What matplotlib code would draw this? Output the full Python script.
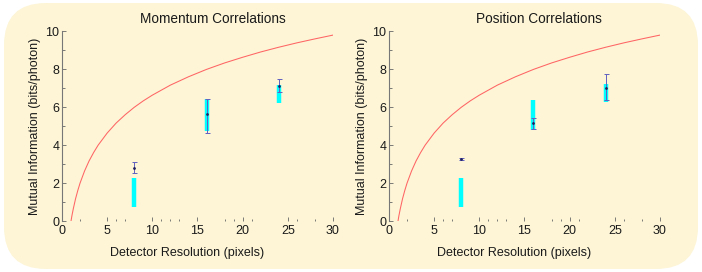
import matplotlib
matplotlib.use("Agg")
import matplotlib.pyplot as plt
from matplotlib.patches import FancyBboxPatch

plt.rcParams['font.family'] = ['Liberation Sans', 'DejaVu Sans']

# Theoretical curve
curve_x = [1.0, 1.1, 1.25, 1.5, 1.75, 2.0, 2.5, 3.0, 3.5, 4.0, 5.0, 6.0, 7.0, 8.0, 9.0, 10.0,
           12.0, 14.0, 16.0, 18.0, 20.0, 22.0, 24.0, 26.0, 28.0, 30.0]
curve_y = [0.0, 0.28, 0.64, 1.17, 1.61, 2.0, 2.64, 3.17, 3.61, 4.0, 4.64, 5.17, 5.61, 6.0, 6.34, 6.64,
           7.17, 7.61, 8.0, 8.34, 8.64, 8.92, 9.17, 9.40, 9.61, 9.81]

res = [8, 16, 24]

# Momentum correlations
mom_band_lo = [0.75, 4.75, 6.25]
mom_band_hi = [2.25, 6.42, 7.18]
mom_val = [2.80, 5.65, 7.10]
mom_err_lo = [2.52, 4.63, 6.82]
mom_err_hi = [3.13, 6.45, 7.48]

# Position correlations
pos_band_lo = [0.75, 4.80, 6.26]
pos_band_hi = [2.25, 6.39, 7.21]
pos_val = [3.26, 5.15, 7.03]
pos_err_lo = [3.20, 4.84, 6.37]
pos_err_hi = [3.32, 5.45, 7.74]

titles = ["Momentum Correlations", "Position Correlations"]
xlabel = "Detector Resolution (pixels)"
ylabel = "Mutual Information (bits/photon)"

BG = '#FDF5D6'
W, H = 702, 272
fig = plt.figure(figsize=(W / 100, H / 100), dpi=100)
fig.patch.set_facecolor('white')

bgax = fig.add_axes([0, 0, 1, 1], zorder=-10)
bgax.set_xlim(0, W)
bgax.set_ylim(0, H)
bgax.axis('off')
bgax.add_patch(FancyBboxPatch((4, 3), W - 8, H - 6, boxstyle="round,pad=0,rounding_size=42",
                              facecolor=BG, edgecolor='none'))

panels = [
    (0.0883, titles[0], mom_band_lo, mom_band_hi, mom_val, mom_err_lo, mom_err_hi),
    (0.5541, titles[1], pos_band_lo, pos_band_hi, pos_val, pos_err_lo, pos_err_hi),
]

TXT = '#1a1a1a'
for x0, title, blo, bhi, val, elo, ehi in panels:
    ax = fig.add_axes([x0, 0.1875, 0.386, 0.6967])
    ax.set_facecolor('none')
    ax.plot(curve_x, curve_y, color='#FF6464', lw=0.75)
    ax.vlines(res, blo, bhi, color='#00FFFF', lw=3.2, zorder=3)
    yerr = [[v - l for v, l in zip(val, elo)], [h - v for v, h in zip(val, ehi)]]
    ax.errorbar(res, val, yerr=yerr, fmt='o', ms=1.0, color='#202060', ecolor='#6060C0',
                elinewidth=0.7, capsize=1.8, capthick=0.7, zorder=4)
    ax.set_xlim(0, 30)
    ax.set_ylim(0, 10)
    for s in ['top', 'right', 'bottom']:
        ax.spines[s].set_visible(False)
    ax.spines['left'].set_color('#777777')
    ax.spines['left'].set_linewidth(0.8)
    ax.set_xticks([0, 5, 10, 15, 20, 25, 30])
    ax.set_xticks([2, 6, 7, 11, 12, 13, 18, 19, 21, 26, 28], minor=True)
    ax.set_yticks([0, 2, 4, 6, 8, 10])
    ax.set_yticks([1, 3, 5, 7, 9], minor=True)
    ax.tick_params(axis='x', direction='in', length=3, width=0.6, color='#666666',
                   labelsize=9, pad=3, labelcolor=TXT)
    ax.tick_params(axis='x', which='minor', direction='in', length=1.5, width=0.6, color='#666666')
    ax.tick_params(axis='y', direction='in', length=3, width=0.6, color='#666666',
                   labelsize=9, pad=2, labelcolor=TXT)
    ax.tick_params(axis='y', which='minor', direction='in', length=2, width=0.6, color='#666666')
    ax.text(0.555, 1.068, title, transform=ax.transAxes, ha='center', va='center',
            fontsize=9.8, color=TXT)
    ax.set_xlabel(xlabel, fontsize=9, color=TXT, labelpad=3)
    ax.xaxis.set_label_coords(0.46, -0.135)
    ax.set_ylabel(ylabel, fontsize=9, color=TXT, labelpad=3)

fig.savefig("out.png", dpi=100, facecolor=fig.get_facecolor())
